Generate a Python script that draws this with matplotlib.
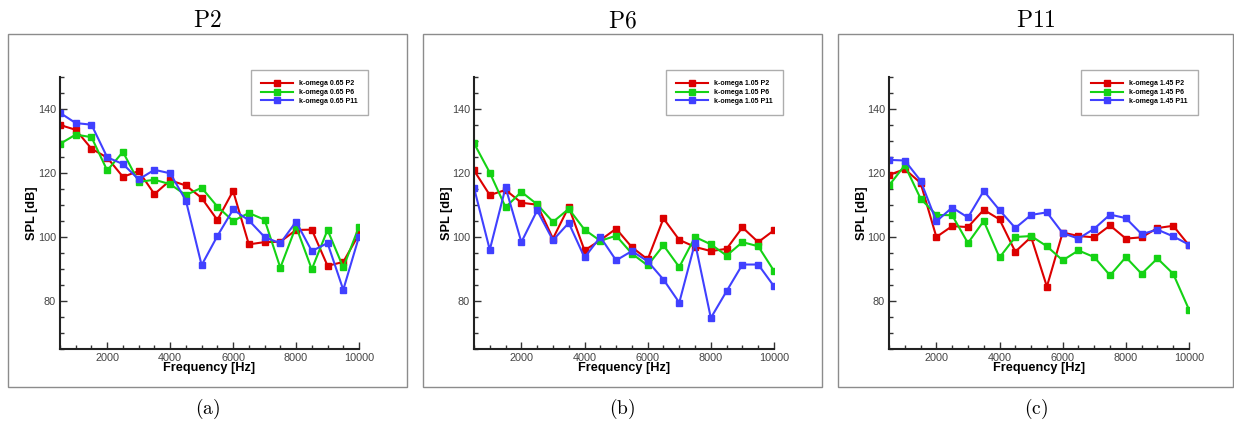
import matplotlib
matplotlib.use("Agg")
import matplotlib.pyplot as plt
from matplotlib.patches import Rectangle
from matplotlib.ticker import MultipleLocator

plt.rcParams['mathtext.fontset'] = 'cm'

freq = [500, 1000, 1500, 2000, 2500, 3000, 3500, 4000, 4500, 5000,
        5500, 6000, 6500, 7000, 7500, 8000, 8500, 9000, 9500, 10000]

# Panel (a) P2, k-omega 0.65
a_p2 = [135.0, 133.5, 127.6, 124.8, 118.8, 120.6, 113.4, 117.7, 116.1, 112.2,
        105.3, 114.4, 97.7, 98.4, 98.5, 102.2, 102.3, 91.0, 92.2, 100.9]
a_p6 = [129.1, 132.0, 131.2, 120.8, 126.6, 117.2, 117.9, 116.5, 113.1, 115.4,
        109.5, 105.0, 107.5, 105.4, 90.4, 103.3, 89.9, 102.2, 90.5, 103.2]
a_p11 = [138.8, 135.6, 135.1, 124.9, 122.8, 118.0, 121.0, 119.9, 111.4, 91.2,
         100.3, 108.6, 105.2, 100.0, 98.0, 104.8, 95.6, 98.1, 83.5, 100.1]

# Panel (b) P6, k-omega 1.05
b_p2 = [120.8, 113.1, 114.7, 110.7, 110.1, 99.5, 109.4, 95.8, 99.0, 102.6,
        96.8, 93.0, 105.8, 99.1, 96.9, 95.6, 96.3, 103.0, 98.4, 102.1]
b_p6 = [129.3, 120.1, 109.3, 114.1, 110.2, 104.7, 108.8, 102.3, 98.8, 100.4,
        94.8, 91.1, 97.4, 90.6, 100.0, 97.7, 94.2, 98.4, 97.1, 89.4]
b_p11 = [115.4, 96.0, 115.5, 98.4, 108.3, 99.0, 104.4, 93.6, 100.0, 92.7,
         95.6, 92.4, 86.7, 79.5, 98.2, 74.7, 83.1, 91.4, 91.4, 84.6]

# Panel (c) P11, k-omega 1.45
c_p2 = [119.4, 121.2, 116.9, 100.0, 103.4, 103.1, 108.5, 105.5, 95.4, 100.0,
        84.5, 101.4, 100.3, 99.9, 103.6, 99.5, 99.9, 102.8, 103.5, 97.4]
c_p6 = [116.1, 122.4, 112.0, 106.9, 106.8, 98.1, 105.0, 93.6, 100.0, 100.3,
        97.1, 92.7, 95.8, 93.7, 88.0, 93.7, 88.5, 93.3, 88.5, 77.3]
c_p11 = [124.1, 123.9, 117.6, 104.9, 109.2, 106.1, 114.4, 108.4, 102.8, 106.9,
         107.7, 101.2, 99.5, 102.6, 107.0, 105.9, 100.9, 102.3, 100.2, 97.6]

titles = ["P2", "P6", "P11"]
captions = ["(a)", "(b)", "(c)"]
cases = ["0.65", "1.05", "1.45"]
series_names = ["P2", "P6", "P11"]
panels = [(a_p2, a_p6, a_p11), (b_p2, b_p6, b_p11), (c_p2, c_p6, c_p11)]
colors = ["#dc0000", "#14d214", "#4040ff"]

W, H = 1234, 422
fig = plt.figure(figsize=(W / 100, H / 100), dpi=100)

frames = [(8, 407), (423, 822), (838, 1233)]
axes_x = [(60, 359), (474, 774), (889, 1189)]
ax_top, ax_bot = 77, 349
frame_top, frame_bot = 34, 387
sans = "Liberation Sans"

for i in range(3):
    fl, fr = frames[i]
    fig.patches.append(Rectangle((fl / W, 1 - frame_bot / H), (fr - fl) / W,
                                 (frame_bot - frame_top) / H, transform=fig.transFigure,
                                 fill=False, edgecolor="#8c8c8c", linewidth=1.0))
    cx = (fl + fr) / 2
    fig.text(cx / W, 1 - 20 / H, r"$\mathrm{%s}$" % titles[i], ha="center", va="center",
             fontsize=17)
    fig.text(cx / W, 1 - 409 / H, r"$\mathrm{%s}$" % captions[i], ha="center", va="center",
             fontsize=14)

    l, r = axes_x[i]
    aw, ah = r - l, ax_bot - ax_top
    ax = fig.add_axes([l / W, 1 - ax_bot / H, aw / W, ah / H])
    for s, name, c in zip(panels[i], series_names, colors):
        ax.plot(freq, s, color=c, marker="s", markersize=4.5, linewidth=1.5,
                label="k-omega %s %s" % (cases[i], name))
    ax.set_xlim(500, 10000)
    ax.set_ylim(65, 150)
    ax.spines["top"].set_visible(False)
    ax.spines["right"].set_visible(False)
    for sp in ("left", "bottom"):
        ax.spines[sp].set_linewidth(1.5)
        ax.spines[sp].set_color("#222222")
    ax.xaxis.set_major_locator(MultipleLocator(2000))
    ax.xaxis.set_minor_locator(MultipleLocator(500))
    ax.yaxis.set_major_locator(MultipleLocator(20))
    ax.yaxis.set_minor_locator(MultipleLocator(5))
    ax.tick_params(which="both", direction="in", colors="#333333", labelcolor="#444444",
                   labelsize=7.8, width=1, pad=3)
    ax.tick_params(which="major", length=5)
    ax.tick_params(which="minor", length=3)
    ax.set_xticks([2000, 4000, 6000, 8000, 10000])
    ax.set_yticks([80, 100, 120, 140])
    ax.set_xlabel("Frequency [Hz]", fontsize=9.2, fontweight="bold", fontfamily=sans)
    ax.set_ylabel("SPL [dB]", fontsize=9.2, fontweight="bold", fontfamily=sans)
    ax.xaxis.set_label_coords(0.5, -(368 - ax_bot) / ah)
    ax.xaxis.label.set_va("center")
    ax.yaxis.set_label_coords(-(l - (fl + 24)) / aw, 0.5)
    ax.yaxis.label.set_va("center")
    for lab in ax.get_xticklabels() + ax.get_yticklabels():
        lab.set_fontfamily(sans)
    ax.patch.set_alpha(0)
    leg = ax.legend(loc="upper left", bbox_to_anchor=((fl + 243) / W, 1 - 70 / H),
                    bbox_transform=fig.transFigure, borderaxespad=0,
                    prop={"weight": "bold", "size": 5, "family": sans},
                    frameon=True, fancybox=False, edgecolor="#999999",
                    handlelength=4.6, handletextpad=0.85, labelspacing=0.23,
                    borderpad=1.5, markerscale=0.9)
    leg.get_frame().set_linewidth(1.0)

fig.savefig("out.png", dpi=100)
